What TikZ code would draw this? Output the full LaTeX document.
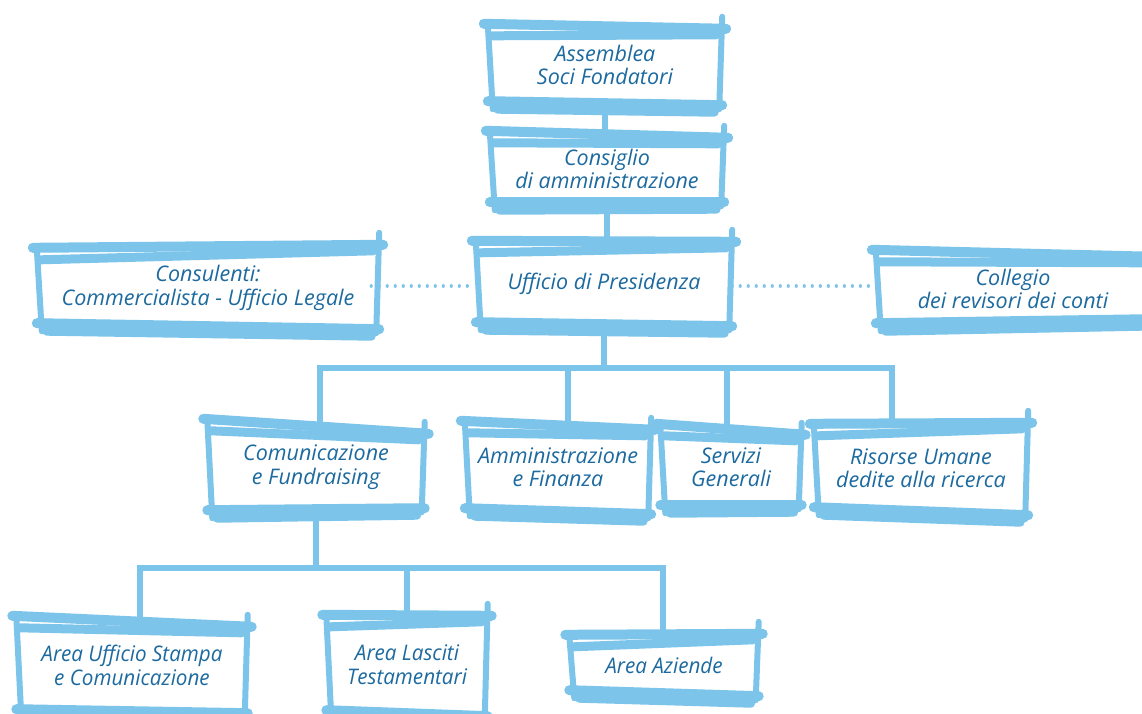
\documentclass[tikz,border=0pt]{standalone}
\usepackage{fontspec}
\setmainfont{Open Sans}
\newfontfamily\condfont{Open Sans}[FakeStretch=0.96]
\usetikzlibrary{calc}
\definecolor{boxblue}{HTML}{7CC4EA}
\definecolor{txtblue}{HTML}{1C6A9F}
\tikzset{
  lbl/.style={font=\fontsize{21.5}{23.5}\selectfont\itshape, text=txtblue, align=center, inner sep=0pt},
  clbl/.style={font=\condfont\fontsize{21.5}{24}\selectfont\itshape, text=txtblue, align=center, inner sep=0pt},
  stroke/.style={draw=boxblue, line width=10pt, line cap=round, line join=round},
  mstroke/.style={draw=boxblue, line width=9pt, line cap=round},
  sstroke/.style={draw=boxblue, line width=6pt, line cap=round},
  conn/.style={draw=boxblue, line width=6pt},
  dots/.style={draw=boxblue, line width=3.2pt, line cap=round, dash pattern=on 0.01pt off 8pt},
}
\newcommand\sketchbox[3]{%
  \draw[stroke] ($(#1.north west)+(-6,-3)$) -- ($(#1.north east)+(6,2+#2)$);
  \draw[mstroke] ($(#1.north west)+(2,9)$) -- ($(#1.north east)+(-4,8+#2)$);
  \draw[stroke] ($(#1.south west)+(-2,-2)$) -- ($(#1.south east)+(2,#3)$);
  \draw[mstroke] ($(#1.south west)+(8,6)$) -- ($(#1.south east)+(-6,7+#3)$);
  \draw[sstroke] ($(#1.north west)+(-2,-2)$) -- ($(#1.south west)+(3,6)$);
  \draw[sstroke] ($(#1.north east)+(2,-10+#2)$) -- ($(#1.south east)+(-1,4+#3)$);
}
\begin{document}
\begin{tikzpicture}[x=1pt,y=-1pt]
\useasboundingbox (0,0) rectangle (1142,713);
\clip (0,0) rectangle (1142,713);
\fill[white] (0,0) rectangle (1142,713);

% nodes
\node[lbl, minimum width=230, minimum height=76] (assemblea) at (605,65) {Assemblea\\Soci Fondatori};
\node[lbl, minimum width=230, minimum height=70] (consiglio) at (607,169) {Consiglio\\di amministrazione};
\node[lbl, minimum width=252, minimum height=80] (presidenza) at (604,284) {Ufficio di Presidenza};
\node[lbl, minimum width=338, minimum height=74] (consulenti) at (208,288) {Consulenti:\\Commercialista - Ufficio Legale};
\node[lbl, minimum width=270, minimum height=72] (collegio) at (1013,289) {Collegio\\dei revisori dei conti};
\node[lbl, minimum width=213, minimum height=90] (comunicazione) at (316,467) {Comunicazione\\e Fundraising};
\node[lbl, minimum width=182, minimum height=86] (amministrazione) at (558,467) {Amministrazione\\e Finanza};
\node[lbl, minimum width=137, minimum height=80] (servizi) at (731,467) {Servizi\\Generali};
\node[lbl, minimum width=210, minimum height=82] (risorse) at (921,468) {Risorse Umane\\dedite alla ricerca};
\node[clbl, minimum width=227, minimum height=92] (stampa) at (132,665) {Area Ufficio Stampa\\e Comunicazione};
\node[clbl, minimum width=157, minimum height=94] (lasciti) at (407,665) {Area Lasciti\\Testamentari};
\node[clbl, minimum width=185, minimum height=54] (aziende) at (664,665) {Area Aziende};

% connectors
\draw[conn] (assemblea.south) -- (assemblea.south |- consiglio.north);
\draw[conn] (consiglio.south) -- (consiglio.south |- presidenza.north);
\coordinate (busL) at (320,368);
\coordinate (busR) at (892,368);
\draw[conn] (presidenza.south) -- (presidenza.south |- busL);
\draw[conn] ([xshift=-3pt]busL) -- ([xshift=3pt]busR);
\draw[conn] (busL) -- (busL |- comunicazione.north);
\draw[conn] ([xshift=10pt]amministrazione.north |- busL) -- ([xshift=10pt]amministrazione.north);
\draw[conn] ([xshift=-4pt]servizi.north |- busL) -- ([xshift=-4pt]servizi.north);
\draw[conn] (busR) -- (busR |- risorse.north);
\coordinate (bus2L) at (140,568);
\coordinate (bus2R) at (663,568);
\draw[conn] (comunicazione.south) -- (comunicazione.south |- bus2L);
\draw[conn] ([xshift=-3pt]bus2L) -- ([xshift=3pt]bus2R);
\draw[conn] (bus2L) -- (bus2L |- stampa.north);
\draw[conn] (lasciti.north |- bus2L) -- (lasciti.north);
\draw[conn] (bus2R) -- (bus2R |- aziende.north);
\coordinate (doty) at (0,286);
\draw[dots] ([xshift=-6pt]consulenti.east |- doty) -- ([xshift=-10pt]presidenza.west |- doty);
\draw[dots] ([xshift=2pt]presidenza.east |- doty) -- ([xshift=-8pt]collegio.west |- doty);

% sketched frames
\sketchbox{assemblea}{0}{2}
\sketchbox{consiglio}{2}{-2}
\sketchbox{presidenza}{-4}{2}
\sketchbox{consulenti}{-8}{4}
\sketchbox{collegio}{2}{-6}
\sketchbox{comunicazione}{10}{-4}
\sketchbox{amministrazione}{4}{4}
\sketchbox{servizi}{6}{-2}
\sketchbox{risorse}{-6}{6}
\sketchbox{stampa}{6}{2}
\sketchbox{lasciti}{-4}{4}
\sketchbox{aziende}{-6}{4}
\end{tikzpicture}
\end{document}
